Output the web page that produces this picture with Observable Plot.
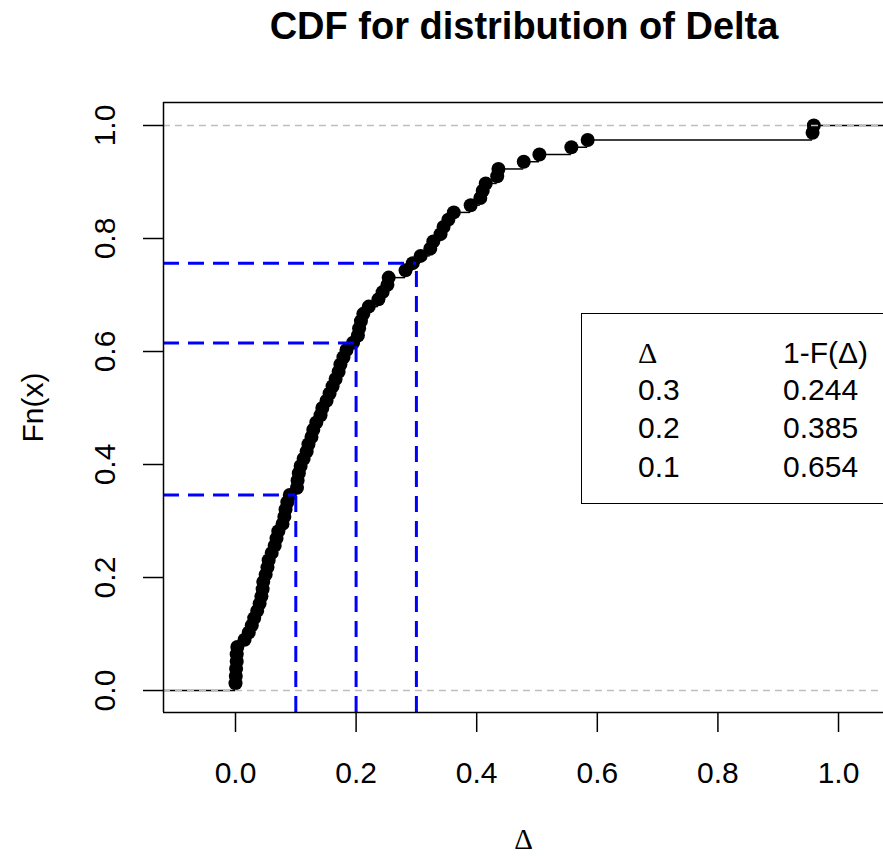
<!DOCTYPE html>
<html><head><meta charset="utf-8">
<script src="https://cdn.jsdelivr.net/npm/d3@7"></script>
<script src="https://cdn.jsdelivr.net/npm/@observablehq/plot@0.6"></script>
<style>
body{margin:0;background:#fff;font-family:"Liberation Sans",Arial,sans-serif;}
#wrap{position:relative;width:883px;height:861px;overflow:hidden;}
#title{position:absolute;left:163px;width:722px;top:5px;text-align:center;font-weight:bold;font-size:38px;line-height:normal;white-space:nowrap;}
#legend{position:absolute;left:581px;top:313px;width:340px;height:189px;border:1.3px solid #000;}
.lg{position:absolute;font-size:30px;line-height:30px;white-space:nowrap;}
.serif{font-family:"Liberation Serif","DejaVu Serif",serif;}
#wrap svg{position:absolute;left:0;top:0;}
</style></head><body>
<div id="wrap"><div id="title">CDF for distribution of Delta</div><div id="legend"></div></div>
<script>
// sorted sample of Delta (78 values), read from the ECDF points
const deltaValues = [
  0.000, 0.0005, 0.001, 0.002, 0.002, 0.003, 0.015, 0.022, 0.027, 0.031,
  0.036, 0.040, 0.043, 0.045, 0.046, 0.050, 0.053, 0.055, 0.060, 0.065,
  0.068, 0.071, 0.078, 0.081, 0.083, 0.086, 0.090, 0.102, 0.103, 0.105,
  0.108, 0.113, 0.118, 0.121, 0.126, 0.129, 0.134, 0.141, 0.144, 0.151,
  0.156, 0.161, 0.166, 0.171, 0.174, 0.179, 0.184, 0.195, 0.203, 0.205,
  0.208, 0.212, 0.221, 0.237, 0.244, 0.252, 0.254, 0.282, 0.294, 0.307,
  0.323, 0.328, 0.340, 0.345, 0.353, 0.362, 0.390, 0.406, 0.410, 0.415,
  0.434, 0.436, 0.478, 0.504, 0.557, 0.584, 0.957, 0.959
];
// reference thresholds and survival values (legend)
const legendDeltas = [0.3, 0.2, 0.1];
const legendLabels = ["0.3", "0.2", "0.1"];
const survival = [0.244, 0.385, 0.654];
const survivalLabels = ["0.244", "0.385", "0.654"];
// axes
const xTicks = [0, 0.2, 0.4, 0.6, 0.8, 1.0];
const yTicks = [0, 0.2, 0.4, 0.6, 0.8, 1.0];
const xDomain = [-0.1194, 1.0746];
const yDomain = [-0.0389, 1.0407];

const n = deltaValues.length;
const pts = deltaValues.map((v, i) => ({x: v, y: (i + 1) / n}));
const segs = [];
for (let i = 0; i <= n; i++) {
  segs.push({
    y: i / n,
    x1: i === 0 ? xDomain[0] : deltaValues[i - 1],
    x2: i === n ? xDomain[1] : deltaValues[i]
  });
}
const refs = legendDeltas.map((d, i) => ({d, F: 1 - survival[i]}));
const fmt = d3.format(".1f");

const chart = Plot.plot({
  width: 883, height: 861,
  marginTop: 102, marginBottom: 149, marginLeft: 163, marginRight: 0,
  x: {domain: xDomain},
  y: {domain: yDomain},
  style: {fontFamily: "'Liberation Sans', Arial, sans-serif", fontSize: "30px", background: "transparent", color: "black"},
  marks: [
    Plot.ruleY(segs, {y: "y", x1: "x1", x2: "x2", stroke: "black", strokeWidth: 1.5}),
    Plot.dot(pts, {x: "x", y: "y", r: 7, fill: "black", stroke: "none"}),
    Plot.ruleY([0, 1], {stroke: "#bebebe", strokeWidth: 1.3, strokeDasharray: "7 5"}),
    Plot.ruleX(refs, {x: "d", y1: () => yDomain[0], y2: "F", stroke: "#0000ff", strokeWidth: 3, strokeDasharray: "16 9"}),
    Plot.ruleY(refs, {y: "F", x1: () => xDomain[0], x2: "d", stroke: "#0000ff", strokeWidth: 3, strokeDasharray: "16 9"}),
    Plot.ruleX([xDomain[0]], {stroke: "black", strokeWidth: 1.5}),
    Plot.ruleY([yDomain[0], yDomain[1]], {stroke: "black", strokeWidth: 1.5}),
    Plot.axisX(xTicks, {tickSize: 20, tickPadding: 29, tickFormat: fmt, fontSize: 30, label: null, strokeWidth: 1.5}),
    Plot.axisY(yTicks, {tickSize: 20, tickFormat: () => "", label: null, strokeWidth: 1.5}),
    Plot.text(yTicks, {y: d => d, text: d => fmt(d), frameAnchor: "left", dx: -58, rotate: -90, textAnchor: "middle", lineAnchor: "middle", fontSize: 30}),
    Plot.text(["Fn(x)"], {text: d => d, frameAnchor: "left", dx: -130, rotate: -90, textAnchor: "middle", fontSize: 30}),
    Plot.text(["Δ"], {text: d => d, frameAnchor: "bottom", dy: 136, fontSize: 29, fontFamily: "'Liberation Serif', 'DejaVu Serif', serif"})
  ]
});
document.getElementById("wrap").appendChild(chart);

// legend table
const wrap = document.getElementById("wrap");
const FS = 30;
function addText(txt, left, baseline, cls) {
  const s = document.createElement("div");
  s.className = "lg" + (cls ? " " + cls : "");
  s.textContent = txt;
  s.style.left = left + "px";
  s.style.top = (baseline - (FS - 1.117 * FS) / 2 - 0.905 * FS) + "px";
  wrap.appendChild(s);
}
addText("Δ", 638, 363, "serif");
addText("1-F(Δ)", 783, 363);
const baselines = [400, 438, 477];
legendLabels.forEach((l, i) => {
  addText(l, 638, baselines[i]);
  addText(survivalLabels[i], 783, baselines[i]);
});
</script>
</body></html>
